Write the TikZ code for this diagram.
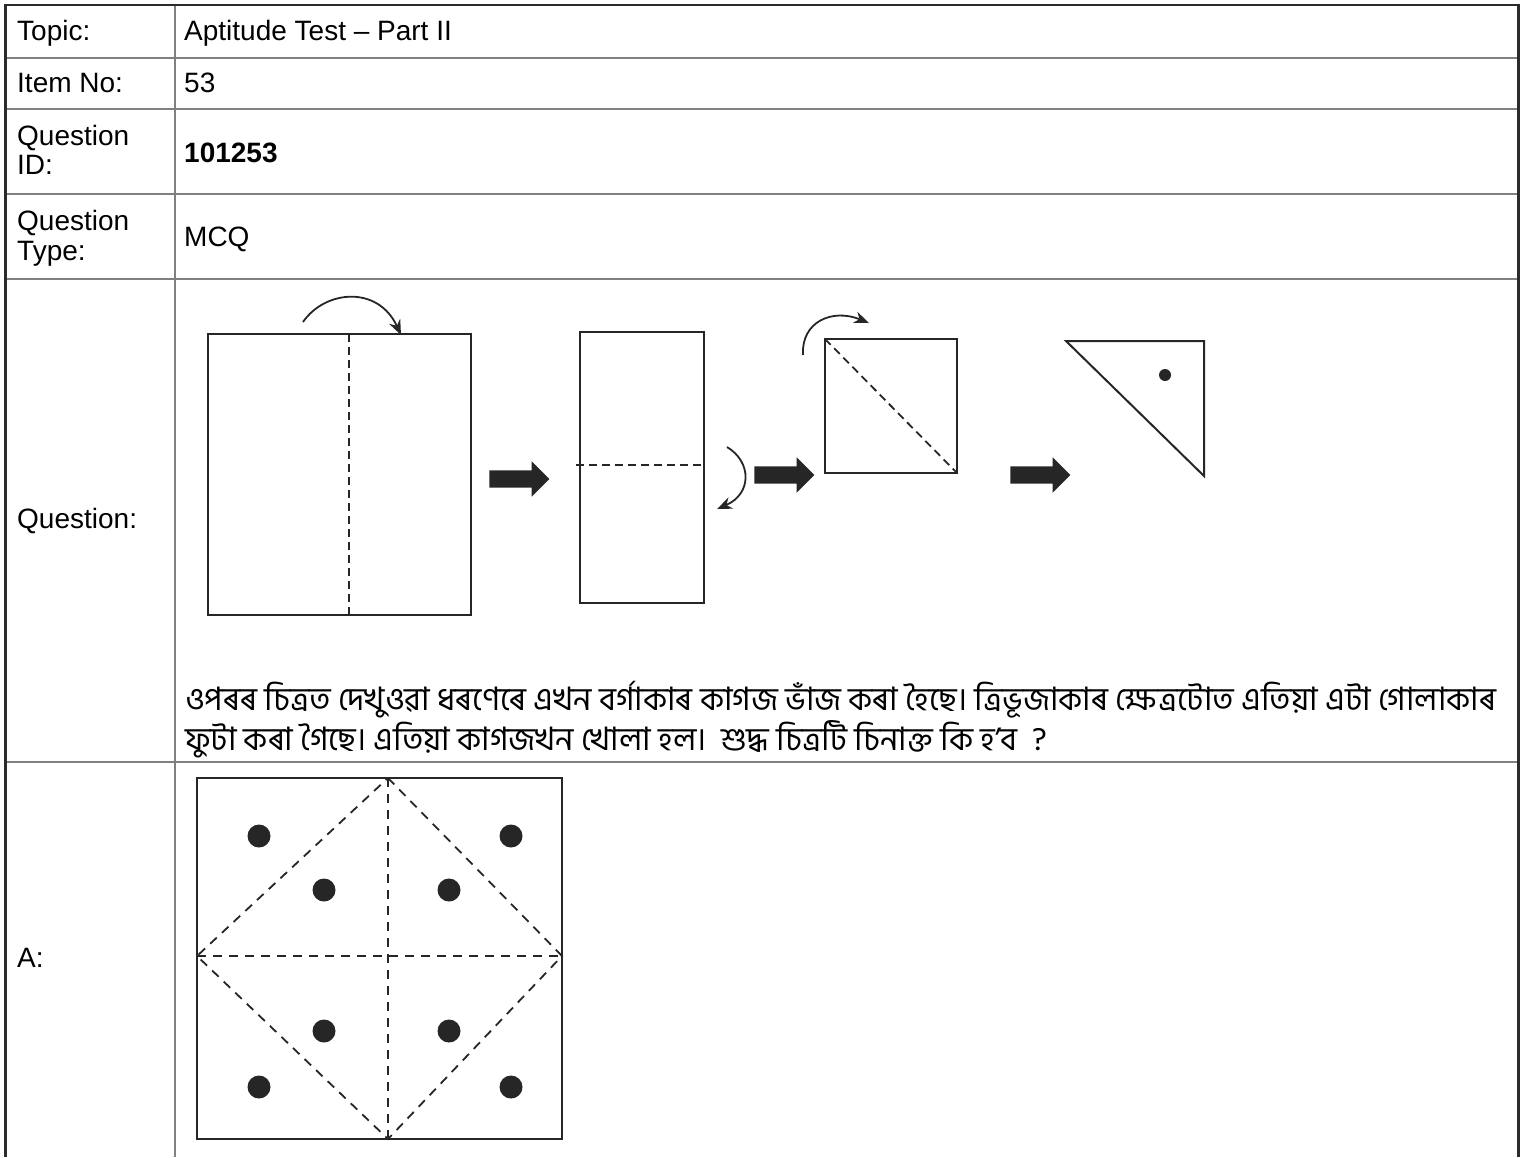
\documentclass[tikz,border=0pt]{standalone}
\usepackage{fontspec}
\setmainfont{Liberation Sans}
\newfontfamily\bengfont[Script=Bengali]{Hind Siliguri}
\usepackage{tikz}
\usetikzlibrary{positioning}
\usetikzlibrary{shapes.arrows}
\usetikzlibrary{arrows.meta}

\definecolor{outerdark}{HTML}{2B2B2B}
\definecolor{rulegray}{HTML}{808080}
\definecolor{ink}{HTML}{262626}

\begin{document}
\begin{tikzpicture}[x=1pt,y=-1pt]
\fontsize{28}{34}\selectfont

% used styles
\tikzstyle{lab} = [anchor=base west, inner sep=0pt, text=black]
\tikzstyle{bnline} = [anchor=base west, inner sep=0pt, font=\bengfont\fontsize{32.3}{40}\selectfont]
\tikzstyle{outerrule} = [line width=2.8pt, draw=outerdark]
\tikzstyle{cellrule} = [line width=1.8pt, draw=rulegray]
\tikzstyle{paper} = [line width=2pt, draw=ink]
\tikzstyle{crease} = [line width=1.8pt, draw=ink, dash pattern=on 8pt off 5pt]
\tikzstyle{foldarrow} = [line width=1.8pt, draw=ink, -{Stealth[length=15pt,width=12pt]}]
\tikzstyle{bigarrow} = [single arrow, fill=ink, inner xsep=0pt, inner ysep=8.5pt, single arrow head extend=9pt, minimum height=60pt]
\tikzstyle{hole} = [circle, fill=ink, inner sep=0pt]

\useasboundingbox (0,0) rectangle (1522,1157);

% table
\draw[cellrule] (5,58) -- (1519,58);
\draw[cellrule] (5,109) -- (1519,109);
\draw[cellrule] (5,194) -- (1519,194);
\draw[cellrule] (5,279) -- (1519,279);
\draw[cellrule] (5,762) -- (1519,762);
\draw[cellrule] (175,5) -- (175,1157);
\draw[outerrule] (5.5,1157) -- (5.5,5) -- (1518.5,5) -- (1518.5,1157);

% left column
\node[lab] (topic) at (17,40) {Topic:};
\node[lab] (item) at (17,92) {Item No:};
\node[lab] (qid) at (17,145) {Question};
\node[lab] (qidb) at (17,174) {ID:};
\node[lab] (qtype) at (17,230) {Question};
\node[lab] (qtypeb) at (17,260) {Type:};
\node[lab] (quest) at (17,528) {Question:};
\node[lab] (ans) at (17,967) {A:};

% right column
\node[lab] (topicval) at (184,40) {Aptitude Test – Part II};
\node[lab] (itemval) at (184,92) {53};
\node[lab] (qidval) at (184,162) {\bfseries 101253};
\node[lab] (qtypeval) at (184,246) {MCQ};

% folding steps
\draw[paper] (208,334) rectangle (471,615);
\draw[crease] (349,334) -- (349,615);
\coordinate (f1a) at (303,322);
\coordinate (f1b) at (401,335);
\draw[foldarrow] (f1a) .. controls (325,290) and (378,285) .. (f1b);

\node[bigarrow] (step1) at (515,479) {};

\draw[paper] (580,332) rectangle (704,603);
\draw[crease] (576,465) -- (704,465);
\coordinate (f2a) at (727,447);
\coordinate (f2b) at (717,509);
\draw[foldarrow] (f2a) .. controls (752,462) and (752,494) .. (f2b);

\node[bigarrow] (step2) at (780,475) {};

\draw[paper] (825,339) rectangle (957,473);
\draw[crease] (825,339) -- (957,473);
\coordinate (f3a) at (803,355);
\coordinate (f3b) at (869,323);
\draw[foldarrow] (f3a) .. controls (801,322) and (832,308) .. (f3b);

\node[bigarrow] (step3) at (1036,475) {};

\draw[paper] (1066,341) -- (1204,341) -- (1204,476) -- cycle;
\node[hole, minimum size=12pt] (punch) at (1165,375) {};

% question text
\node[bnline] (stem1) at (185,710) {ওপৰৰ চিত্ৰত দেখুওৱা ধৰণেৰে এখন বৰ্গাকাৰ কাগজ ভাঁজ কৰা হৈছে। ত্ৰিভূজাকাৰ ক্ষেত্ৰটোত এতিয়া এটা গোলাকাৰ};
\node[bnline] (stem2) at (185,750) {ফুটা কৰা গৈছে। এতিয়া কাগজখন খোলা হল।~ শুদ্ধ চিত্ৰটি চিনাক্ত কি হ’ব~ ?};

% option A
\draw[paper] (197,778) rectangle (562,1139);
\draw[crease, dash pattern=on 9pt off 7pt] (388,778) -- (562,956) -- (388,1139) -- (197,956) -- cycle;
\draw[crease, dash pattern=on 9pt off 7pt] (388,778) -- (388,1139);
\draw[crease, dash pattern=on 9pt off 7pt] (197,956) -- (562,956);
\foreach \px/\py in {259/836, 511/836, 324/890, 449/890, 324/1031, 449/1031, 259/1087, 511/1087}
  \node[hole, minimum size=23pt] at (\px,\py) {};

\end{tikzpicture}
\end{document}
